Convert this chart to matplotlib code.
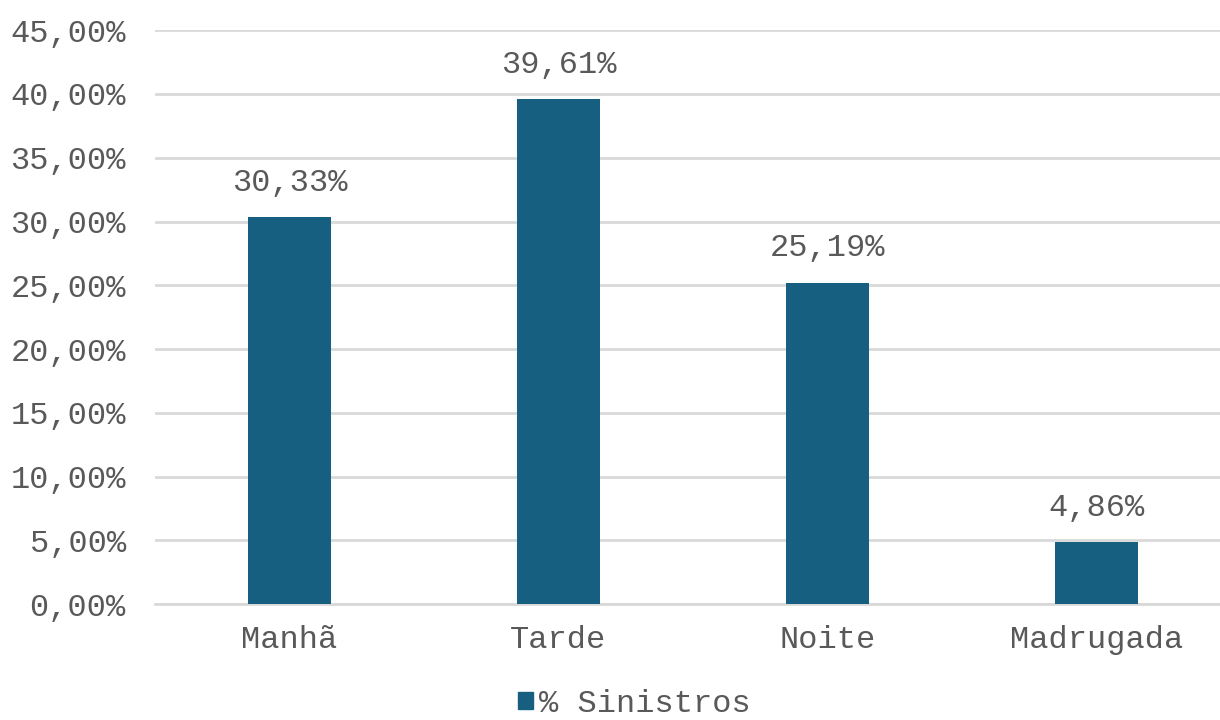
"""
Distribuição de sinistros por período do dia - gráfico de barras.
"""

import matplotlib
matplotlib.use('Agg')
import matplotlib.pyplot as plt
from matplotlib.patches import Patch
from matplotlib.ticker import FuncFormatter, MultipleLocator

#########################################################################################

# DADOS

periodos = ['Manhã', 'Tarde', 'Noite', 'Madrugada']
pct_sinistros = [30.33, 39.61, 25.19, 4.86]
serie_nome = '% Sinistros'

#########################################################################################

COR_BARRA = '#175f80'
COR_TEXTO = '#595959'
COR_GRADE = '#d9d9d9'
FS = 23

plt.rcParams['font.family'] = ['Liberation Mono', 'DejaVu Sans Mono']
plt.rcParams['font.size'] = FS

fig = plt.figure(figsize=(12.2, 7.2), dpi=100)
ax = fig.add_axes([0.127, 0.161, 0.882, 0.797])

x = range(len(periodos))
bars = ax.bar(x, pct_sinistros, width=0.31, color=COR_BARRA, zorder=3)

# rótulos de dados
for b, v in zip(bars, pct_sinistros):
    ax.annotate(f'{v:.2f}%'.replace('.', ','),
                (b.get_x() + b.get_width() / 2, b.get_height()),
                xytext=(0, 14), textcoords='offset points',
                ha='center', va='bottom', color=COR_TEXTO, fontsize=FS)

ax.set_xlim(-0.5, len(periodos) - 0.5)
ax.set_ylim(0, 45)
ax.yaxis.set_major_locator(MultipleLocator(5))
ax.yaxis.set_major_formatter(FuncFormatter(lambda v, p: f'{v:.2f}%'.replace('.', ',')))
ax.set_xticks(list(x))
ax.set_xticklabels(periodos)

ax.grid(axis='y', color=COR_GRADE, linewidth=2, zorder=0)
ax.tick_params(axis='both', length=0, colors=COR_TEXTO, labelsize=FS)
ax.tick_params(axis='y', pad=21)
ax.tick_params(axis='x', pad=15)
for s in ['top', 'right', 'left']:
    ax.spines[s].set_visible(False)
ax.spines['bottom'].set_color(COR_GRADE)
ax.spines['bottom'].set_linewidth(2)

fig.legend(handles=[Patch(color=COR_BARRA, label=serie_nome)],
           loc='lower center', bbox_to_anchor=(0.52, -0.038), frameon=False,
           handlelength=0.45, handleheight=0.45, handletextpad=0.2,
           labelcolor=COR_TEXTO, fontsize=FS)

fig.savefig('out.png', dpi=100)
